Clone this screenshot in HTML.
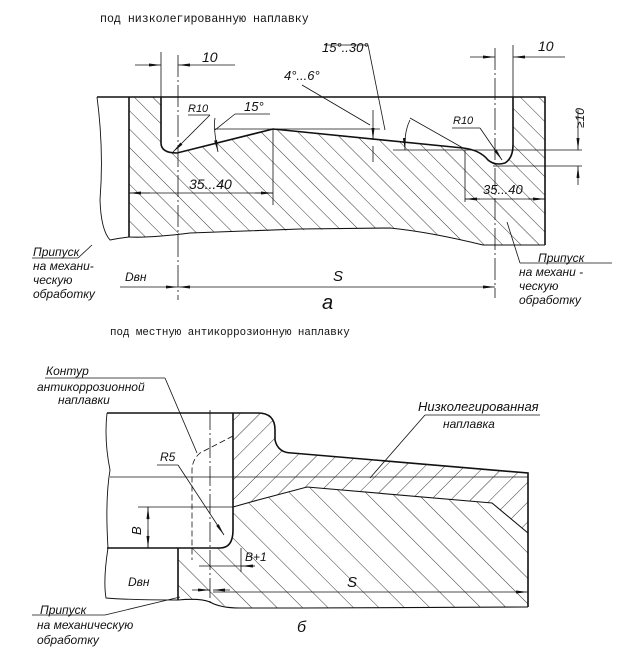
<!DOCTYPE html>
<html><head><meta charset="utf-8">
<style>
html,body{margin:0;padding:0;background:#fff;}
svg{display:block;}
.t{font-family:"Liberation Sans","DejaVu Sans",sans-serif;font-style:italic;fill:#111;}
.m{font-family:"Liberation Mono","DejaVu Sans Mono",monospace;fill:#111;}
</style></head><body>
<svg width="642" height="652" viewBox="0 0 642 652" xmlns="http://www.w3.org/2000/svg">
<defs>
<pattern id="h1" patternUnits="userSpaceOnUse" width="13" height="13" patternTransform="rotate(-45)">
<line x1="0" y1="0" x2="0" y2="13" stroke="#222" stroke-width="0.9"/></pattern>
<pattern id="hb" patternUnits="userSpaceOnUse" width="18" height="18" patternTransform="rotate(-45)">
<line x1="0" y1="0" x2="0" y2="18" stroke="#222" stroke-width="0.9"/></pattern>
<pattern id="h2" patternUnits="userSpaceOnUse" width="14" height="14" patternTransform="rotate(45)">
<line x1="0" y1="0" x2="0" y2="14" stroke="#222" stroke-width="0.9"/></pattern>
<marker id="a" markerWidth="12" markerHeight="6" refX="12" refY="3" orient="auto" markerUnits="userSpaceOnUse">
<path d="M0,1.5 L12,3 L0,4.5 Z" fill="#111"/></marker>
</defs>
<text x="100" y="22" class="m" font-size="11.6">под низколегированную наплавку</text>

<!-- top figure -->
<path d="M129,97 L161,97 L161,143 Q161,153 177,153 L273,129 L463,148 Q480,150 488,160 Q495,166 505,163 Q513,158 513,145 L513,97 L545,97 L545,245 L483,245 Q430,232 390,228 L190,233 Q150,238 129,237 Z" fill="url(#h1)" stroke="none"/>
<g fill="none" stroke="#111" stroke-width="1.6">
<path d="M97,97 L545,97 L545,245"/>
<path d="M129,97 L129,237"/>
<path d="M161,97 L161,143 Q161,153 177,153 L273,129 L463,148 Q480,150 488,160 Q495,166 505,163 Q513,158 513,145 L513,97"/>
<path d="M129,237 Q150,238 190,233 L300,229 L390,228 Q430,232 483,245 L545,245" stroke-width="1.1"/>
<path d="M97,97 Q104,150 100,200 Q101,230 110,240 Q120,238 129,237" stroke-width="0.9"/>
</g>
<g stroke="#111" stroke-width="0.8" fill="none">
<line x1="178" y1="55" x2="178" y2="300" stroke-dasharray="22,3,2,3"/>
<line x1="495" y1="48" x2="495" y2="298" stroke-dasharray="22,3,2,3"/>
<line x1="161" y1="52" x2="161" y2="97"/>
<line x1="513" y1="45" x2="513" y2="97"/>
<line x1="135" y1="65" x2="161" y2="65" marker-end="url(#a)"/>
<line x1="235" y1="65" x2="178" y2="65" marker-end="url(#a)"/>
<line x1="470" y1="57" x2="495" y2="57" marker-end="url(#a)"/>
<line x1="565" y1="57" x2="513" y2="57" marker-end="url(#a)"/>
<line x1="129" y1="193" x2="273" y2="193"/>
<line x1="150" y1="193" x2="129" y2="193" marker-end="url(#a)"/>
<line x1="255" y1="193" x2="273" y2="193" marker-end="url(#a)"/>
<line x1="273" y1="129" x2="273" y2="205"/>
<line x1="465" y1="150" x2="465" y2="202"/>
<line x1="465" y1="199" x2="545" y2="199"/>
<line x1="480" y1="199" x2="465" y2="199" marker-end="url(#a)"/>
<line x1="528" y1="199" x2="545" y2="199" marker-end="url(#a)"/>
<line x1="120" y1="287" x2="178" y2="287" marker-end="url(#a)"/>
<line x1="200" y1="287" x2="178" y2="287" marker-end="url(#a)"/>
<line x1="200" y1="287" x2="495" y2="287" marker-end="url(#a)"/>
<line x1="215" y1="129" x2="380" y2="129"/>
<line x1="393" y1="150" x2="582" y2="150"/>
<line x1="493" y1="166" x2="582" y2="166"/>
<line x1="578" y1="110" x2="578" y2="150" marker-end="url(#a)"/>
<line x1="578" y1="185" x2="578" y2="166" marker-end="url(#a)"/>
<line x1="188" y1="115" x2="210" y2="115"/><line x1="210" y1="115" x2="173" y2="152" marker-end="url(#a)"/>
<line x1="235" y1="114" x2="270" y2="114"/><line x1="235" y1="114" x2="215" y2="130"/>
<path d="M215,118 Q213,128 218,152" marker-end="url(#a)"/>
<line x1="325" y1="45" x2="368" y2="45"/><line x1="368" y1="45" x2="385" y2="130"/>
<line x1="302" y1="85" x2="370" y2="125"/><line x1="373" y1="110" x2="373" y2="140" marker-end="url(#a)"/>
<line x1="373" y1="162" x2="373" y2="146"/>
<line x1="410" y1="118" x2="463" y2="148"/>
<path d="M410,120 Q404,132 405,150" marker-end="url(#a)"/>
<line x1="452" y1="128" x2="480" y2="128"/><line x1="480" y1="128" x2="502" y2="160" marker-end="url(#a)"/>
<line x1="32" y1="258" x2="78" y2="258"/><line x1="78" y1="258" x2="92" y2="245"/>
<line x1="520" y1="263" x2="612" y2="263"/><line x1="520" y1="263" x2="507" y2="222"/>
</g>
<g class="t">
<text x="202" y="62" font-size="14">10</text>
<text x="538" y="51" font-size="14">10</text>
<text x="322" y="52" font-size="13">15°..30°</text>
<text x="284" y="80" font-size="13">4°...6°</text>
<text x="188" y="112" font-size="11">R10</text>
<text x="244" y="111" font-size="13">15°</text>
<text x="453" y="124" font-size="11">R10</text>
<text x="189" y="189" font-size="14">35...40</text>
<text x="483" y="194" font-size="13">35...40</text>
<text x="333" y="281" font-size="15">S</text>
<text x="322" y="309" font-size="20">a</text>
<text x="125" y="281" font-size="12">Dвн</text>
<text x="33" y="256" font-size="12">Припуск</text>
<text x="33" y="270" font-size="12">на механи-</text>
<text x="33" y="284" font-size="12">ческую</text>
<text x="33" y="298" font-size="12">обработку</text>
<text x="538" y="262" font-size="12">Припуск</text>
<text x="519" y="276" font-size="12">на механи -</text>
<text x="519" y="290" font-size="12">ческую</text>
<text x="519" y="304" font-size="12">обработку</text>
<text x="0" y="0" font-size="12" transform="translate(584,128) rotate(-90)">≥10</text>
</g>

<text x="110" y="335" class="m" font-size="10.8">под местную антикоррозионную наплавку</text>

<!-- bottom figure -->
<path d="M233,413 L258,413 Q275,413 275,430 L275,440 Q278,453 292,453 L528,473 L528,533 L492,503 L307,487 L233,507 Z" fill="url(#h2)"/>
<path d="M233,507 L307,487 L492,503 L528,533 L528,607 L300,608 L237,608 Q215,605 210,600 L178,600 L178,548 L225,548 Q233,545 233,530 Z" fill="url(#hb)"/>
<g fill="none" stroke="#111" stroke-width="1.6">
<path d="M107,413 L258,413 Q275,413 275,430 L275,440 Q278,453 292,453 L528,473 L528,607"/>
<path d="M233,413 L233,530 Q233,548 220,548 L107,548"/>
<path d="M178,548 L178,600"/>
<path d="M233,507 L258,500 L307,487 L492,503 L528,533" stroke-width="1.1"/>
<path d="M178,600 Q200,598 210,602 Q220,608 240,608 L300,608 L528,607" stroke-width="1.1"/>
<path d="M107,413 Q104,440 110,470 Q105,500 108,548 Q103,580 106,598 Q130,600 178,600" stroke-width="0.9"/>
</g>
<g stroke="#111" stroke-width="0.8" fill="none">
<path d="M233,436 L200,453 Q192,460 192,470 L192,560" stroke-dasharray="6,3"/>
<line x1="210" y1="410" x2="210" y2="605" stroke-dasharray="20,3,2,3"/>
<line x1="110" y1="477" x2="528" y2="477"/>
<line x1="138" y1="507" x2="233" y2="507"/>
<line x1="148" y1="520" x2="148" y2="507" marker-end="url(#a)"/>
<line x1="148" y1="530" x2="148" y2="548" marker-end="url(#a)"/>
<line x1="148" y1="507" x2="148" y2="548"/>
<line x1="241" y1="548" x2="241" y2="572"/>
<line x1="199" y1="566" x2="255" y2="566"/>
<line x1="255" y1="566" x2="241" y2="566" marker-end="url(#a)"/>
<line x1="192" y1="590" x2="210" y2="590" marker-end="url(#a)"/>
<line x1="230" y1="590" x2="213" y2="590" marker-end="url(#a)"/>
<line x1="213" y1="592" x2="528" y2="592" marker-end="url(#a)"/>
<line x1="157" y1="465" x2="178" y2="465"/><line x1="178" y1="465" x2="224" y2="535" marker-end="url(#a)"/>
<line x1="45" y1="378" x2="165" y2="378"/><line x1="165" y1="378" x2="197" y2="453"/>
<line x1="425" y1="415" x2="540" y2="415"/><line x1="425" y1="415" x2="370" y2="478"/>
<line x1="32" y1="615" x2="105" y2="615"/><line x1="105" y1="615" x2="180" y2="597"/>
</g>
<g class="t">
<text x="46" y="375" font-size="12">Контур</text>
<text x="37" y="391" font-size="12">антикоррозионной</text>
<text x="58" y="404" font-size="12">наплавки</text>
<text x="160" y="461" font-size="12">R5</text>
<text x="0" y="0" font-size="13" transform="translate(141,535) rotate(-90)">B</text>
<text x="245" y="561" font-size="12">B+1</text>
<text x="128" y="586" font-size="12">Dвн</text>
<text x="347" y="587" font-size="15">S</text>
<text x="297" y="632" font-size="16">б</text>
<text x="418" y="411" font-size="13">Низколегированная</text>
<text x="443" y="428" font-size="12">наплавка</text>
<text x="40" y="614" font-size="12">Припуск</text>
<text x="37" y="629" font-size="12">на механическую</text>
<text x="37" y="644" font-size="12">обработку</text>
</g>
</svg>
</body></html>
